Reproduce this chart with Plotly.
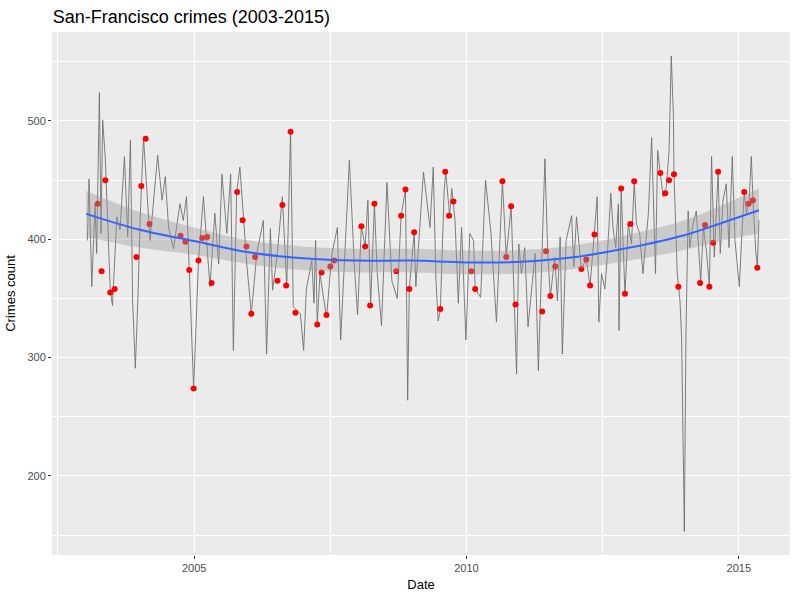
import plotly.graph_objects as go

# daily crime counts, traced at the turning points (decimal year, count)
line_year = [
    2003.04, 2003.07, 2003.12, 2003.18, 2003.21, 2003.26, 2003.29, 2003.32, 2003.37, 2003.46,
    2003.50, 2003.58, 2003.64, 2003.72, 2003.78, 2003.83, 2003.87, 2003.92, 2003.97, 2004.01,
    2004.07, 2004.13, 2004.19, 2004.33, 2004.41, 2004.47, 2004.53, 2004.62, 2004.74, 2004.80,
    2004.86, 2004.91, 2004.99, 2005.08, 2005.17, 2005.29, 2005.38, 2005.45, 2005.51, 2005.60,
    2005.67, 2005.72, 2005.78, 2005.84, 2005.97, 2006.05, 2006.15, 2006.27, 2006.33, 2006.40,
    2006.44, 2006.52, 2006.62, 2006.70, 2006.77, 2006.82, 2006.95, 2007.01, 2007.06, 2007.16,
    2007.20, 2007.23, 2007.26, 2007.31, 2007.43, 2007.53, 2007.63, 2007.69, 2007.79, 2007.85,
    2007.94, 2008.00, 2008.07, 2008.14, 2008.19, 2008.24, 2008.31, 2008.36, 2008.44, 2008.54,
    2008.63, 2008.73, 2008.80, 2008.88, 2008.92, 2008.95, 2009.04, 2009.07, 2009.21, 2009.33,
    2009.39, 2009.44, 2009.48, 2009.52, 2009.59, 2009.62, 2009.69, 2009.73, 2009.79, 2009.85,
    2009.91, 2009.99, 2010.06, 2010.13, 2010.16, 2010.26, 2010.35, 2010.45, 2010.55, 2010.66,
    2010.73, 2010.82, 2010.92, 2010.96, 2011.01, 2011.07, 2011.13, 2011.26, 2011.32, 2011.38,
    2011.44, 2011.49, 2011.54, 2011.62, 2011.67, 2011.72, 2011.76, 2011.83, 2011.93, 2011.97,
    2012.02, 2012.11, 2012.20, 2012.27, 2012.35, 2012.40, 2012.43, 2012.48, 2012.54, 2012.58,
    2012.65, 2012.69, 2012.74, 2012.79, 2012.80, 2012.84, 2012.91, 2012.97, 2013.03, 2013.08,
    2013.12, 2013.18, 2013.24, 2013.34, 2013.40, 2013.43, 2013.47, 2013.51, 2013.56, 2013.61,
    2013.67, 2013.72, 2013.76, 2013.80, 2013.81, 2013.87, 2013.92, 2013.95, 2014.00, 2014.03,
    2014.07, 2014.10, 2014.16, 2014.22, 2014.30, 2014.35, 2014.41, 2014.46, 2014.50, 2014.55,
    2014.62, 2014.66, 2014.71, 2014.77, 2014.82, 2014.88, 2014.93, 2015.01, 2015.05, 2015.10,
    2015.14, 2015.19, 2015.23, 2015.26, 2015.31, 2015.34, 2015.37,
]
line_count = [
    399, 451, 360, 430, 388, 524, 405, 501, 467, 357,
    344, 419, 408, 470, 402, 484, 348, 291, 354, 419,
    486, 439, 399, 471, 433, 453, 410, 392, 430, 416,
    436, 374, 274, 382, 436, 360, 422, 379, 455, 405,
    455, 306, 439, 461, 377, 337, 388, 416, 303, 409,
    357, 385, 436, 360, 491, 343, 337, 306, 358, 382,
    346, 399, 328, 371, 334, 388, 410, 315, 405, 467,
    379, 336, 411, 394, 433, 344, 430, 372, 327, 448,
    365, 350, 420, 442, 264, 358, 406, 360, 457, 410,
    461, 365, 331, 340, 441, 457, 420, 443, 416, 346,
    410, 315, 405, 399, 358, 351, 450, 405, 330, 449,
    385, 428, 286, 396, 371, 393, 326, 388, 289, 371,
    468, 391, 351, 385, 348, 402, 303, 399, 420, 377,
    419, 375, 383, 361, 404, 436, 330, 371, 358, 382,
    439, 410, 393, 430, 323, 443, 353, 413, 396, 449,
    413, 405, 371, 422, 486, 427, 371, 475, 455, 436,
    444, 475, 555, 503, 455, 371, 348, 317, 153, 320,
    424, 393, 413, 424, 365, 410, 388, 360, 470, 385,
    457, 388, 433, 447, 393, 470, 399, 360, 399, 439,
    422, 433, 470, 433, 391, 376, 416,
]

# highlighted days (red points)
point_year = [
    2003.23, 2003.30, 2003.37, 2003.46, 2003.54, 2003.94, 2004.03, 2004.11, 2004.18, 2004.75,
    2004.84, 2004.91, 2004.99, 2005.08, 2005.15, 2005.24, 2005.32, 2005.79, 2005.89, 2005.96,
    2006.05, 2006.12, 2006.53, 2006.62, 2006.69, 2006.77, 2006.86, 2007.26, 2007.34, 2007.43,
    2007.50, 2007.57, 2008.07, 2008.14, 2008.23, 2008.31, 2008.71, 2008.80, 2008.88, 2008.95,
    2009.04, 2009.52, 2009.61, 2009.68, 2009.76, 2010.09, 2010.16, 2010.66, 2010.73, 2010.82,
    2010.90, 2011.39, 2011.46, 2011.54, 2011.63, 2012.11, 2012.20, 2012.27, 2012.35, 2012.84,
    2012.91, 2013.01, 2013.08, 2013.56, 2013.65, 2013.72, 2013.81, 2013.89, 2014.29, 2014.38,
    2014.46, 2014.53, 2014.62, 2015.10, 2015.18, 2015.26, 2015.34,
]
point_count = [
    430, 373, 450, 355, 358, 385, 445, 485, 413, 403,
    398, 374, 274, 382, 401, 402, 363, 440, 416, 394,
    337, 385, 365, 429, 361, 491, 338, 328, 372, 336,
    377, 382, 411, 394, 344, 430, 373, 420, 442, 358,
    406, 341, 457, 420, 432, 373, 358, 449, 385, 428,
    345, 339, 390, 352, 377, 375, 383, 361, 404, 443,
    354, 413, 449, 456, 439, 450, 455, 360, 363, 412,
    360, 397, 457, 440, 430, 433, 376,
]

# loess smooth with its confidence band
smooth_year = [2003.02, 2004.0, 2005.0, 2006.0, 2007.0, 2008.0, 2009.0,
               2010.0, 2011.0, 2012.0, 2013.0, 2014.0, 2014.7, 2015.37]
smooth_fit = [421.5, 408, 398.5, 389, 384, 382, 382, 380.5, 381, 385, 393, 403.5, 414, 424.5]
smooth_lo = [402, 393, 387, 379, 374, 372, 372, 370.5, 371, 375, 382, 391, 399, 405]
smooth_hi = [441, 423, 410, 399, 394, 392, 392, 390.5, 391, 395, 404, 416, 429, 443]

fig = go.Figure()

fig.add_trace(go.Scatter(
    x=line_year, y=line_count, mode="lines",
    line=dict(color="#707070", width=0.9),
))
fig.add_trace(go.Scatter(
    x=point_year, y=point_count, mode="markers",
    marker=dict(color="#ff0000", size=6),
))
# ribbon goes on top of the points, like ggplot's geom_smooth
fig.add_trace(go.Scatter(
    x=smooth_year, y=smooth_lo, mode="lines",
    line=dict(width=0, shape="spline"), hoverinfo="skip",
))
fig.add_trace(go.Scatter(
    x=smooth_year, y=smooth_hi, mode="lines",
    line=dict(width=0, shape="spline"), fill="tonexty",
    fillcolor="rgba(153,153,153,0.4)", hoverinfo="skip",
))
fig.add_trace(go.Scatter(
    x=smooth_year, y=smooth_fit, mode="lines",
    line=dict(color="#3366ff", width=2, shape="spline"),
))

axis_common = dict(
    showgrid=True, gridcolor="#ffffff", gridwidth=1.1,
    minor=dict(showgrid=True, gridcolor="#ffffff", gridwidth=0.5),
    zeroline=False, showline=False, automargin=False,
    ticks="outside", ticklen=3, tickcolor="#333333",
    tickfont=dict(size=11, color="#4d4d4d"),
    title_font=dict(size=13, color="#000000"),
)

fig.update_layout(
    width=800, height=600,
    showlegend=False,
    paper_bgcolor="#ffffff",
    plot_bgcolor="#ebebeb",
    font=dict(family="Liberation Sans, Arial, sans-serif"),
    margin=dict(l=52, r=10, t=32, b=45),
    title=dict(
        text="San-Francisco crimes (2003-2015)",
        font=dict(size=18, color="#000000"),
        xref="container", x=0.066, xanchor="left",
        yref="container", y=0.973, yanchor="middle",
    ),
    xaxis=dict(
        axis_common, range=[2002.39, 2015.94],
        tickvals=[2005, 2010, 2015], ticktext=["2005", "2010", "2015"],
        minor_tickvals=[2002.5, 2007.5, 2012.5],
        title=dict(text="Date", standoff=6),
    ),
    yaxis=dict(
        axis_common, range=[133.2, 575.2],
        tickvals=[200, 300, 400, 500],
        minor_tickvals=[150, 250, 350, 450, 550],
        title=dict(text="Crimes count", standoff=8),
    ),
)

fig.write_html("out.html", config={"displayModeBar": False},
               post_script="document.body.style.margin='0';")
